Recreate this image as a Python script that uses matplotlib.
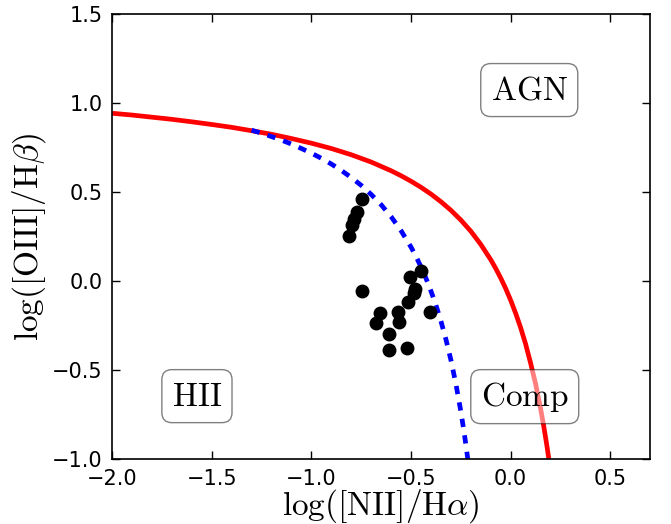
import matplotlib
matplotlib.use("Agg")
from matplotlib import pyplot as plt

plt.rcParams['mathtext.fontset'] = 'cm'
plt.rcParams['lines.scale_dashes'] = False

# galaxy line ratios
log_nii_ha = [-0.746, -0.770, -0.785, -0.798, -0.813,
              -0.449, -0.504, -0.747, -0.479, -0.487, -0.513, -0.407,
              -0.655, -0.566, -0.675, -0.559, -0.613, -0.613, -0.521]
log_oiii_hb = [0.461, 0.389, 0.351, 0.315, 0.251,
               0.056, 0.024, -0.056, -0.047, -0.069, -0.116, -0.172,
               -0.181, -0.172, -0.234, -0.229, -0.298, -0.388, -0.378]

# Kewley (2001) maximum starburst line
kew_x = [-2.0, -1.9, -1.8, -1.7, -1.6, -1.5, -1.4, -1.3, -1.2, -1.1,
         -1.0, -0.9, -0.8, -0.7, -0.6, -0.55, -0.5, -0.45, -0.4, -0.35,
         -0.3, -0.25, -0.2, -0.15, -0.1, -0.075, -0.05, -0.025, 0.0, 0.025,
         0.05, 0.075, 0.1, 0.125, 0.15, 0.165, 0.18, 0.19, 0.2]
kew_y = [0.943, 0.933, 0.921, 0.909, 0.895, 0.880, 0.864, 0.845, 0.825, 0.801,
         0.775, 0.745, 0.710, 0.669, 0.620, 0.592, 0.561, 0.527, 0.489, 0.446,
         0.398, 0.343, 0.280, 0.206, 0.120, 0.071, 0.017, -0.042, -0.108, -0.181,
         -0.262, -0.354, -0.461, -0.578, -0.716, -0.810, -0.913, -0.989, -1.069]

# Kauffmann (2003) star-forming boundary
kau_x = [-1.3, -1.25, -1.2, -1.15, -1.1, -1.05, -1.0, -0.95, -0.9, -0.85,
         -0.8, -0.75, -0.7, -0.65, -0.6, -0.55, -0.5, -0.475, -0.45, -0.425,
         -0.4, -0.375, -0.35, -0.325, -0.3, -0.275, -0.25, -0.235, -0.225, -0.215]
kau_y = [0.848, 0.831, 0.812, 0.792, 0.770, 0.745, 0.719, 0.690, 0.658, 0.622,
         0.582, 0.538, 0.487, 0.429, 0.362, 0.283, 0.191, 0.138, 0.080, 0.016,
         -0.056, -0.135, -0.225, -0.327, -0.443, -0.577, -0.733, -0.840, -0.918, -1.002]

fig = plt.figure(figsize=(6.71, 5.24), dpi=100)
ax = fig.add_axes([0.167, 0.124, 0.802, 0.849])

ax.plot(kew_x, kew_y, color='red', lw=3.4)
ax.plot(kau_x, kau_y, color='blue', lw=3.4, dashes=(6, 6))
ax.plot(log_nii_ha, log_oiii_hb, 'o', color='black', ms=9, mec='black')

box = dict(boxstyle='round', facecolor='white', alpha=0.5)
ax.text(-0.1, 1.02, r'$\mathrm{AGN}$', fontsize=24, bbox=box)
ax.text(-1.7, -0.7, r'$\mathrm{HII}$', fontsize=24, bbox=box)
ax.text(-0.15, -0.7, r'$\mathrm{Comp}$', fontsize=24, bbox=box)

ax.set_xlim(-2.0, 0.7)
ax.set_ylim(-1.0, 1.5)
ax.set_xticks([-2.0, -1.5, -1.0, -0.5, 0.0, 0.5])
ax.set_yticks([-1.0, -0.5, 0.0, 0.5, 1.0, 1.5])
ax.tick_params(direction='in', length=6, width=1, top=True, right=True,
               labelsize=15, pad=7)
for s in ax.spines.values():
    s.set_linewidth(1.2)

ax.set_xlabel(r'$\log([\mathrm{NII}]/\mathrm{H}\alpha)$', fontsize=24, labelpad=-1)
ax.set_ylabel(r'$\log([\mathrm{OIII}]/\mathrm{H}\beta)$', fontsize=24, labelpad=3)

fig.savefig('out.png', dpi=100)
